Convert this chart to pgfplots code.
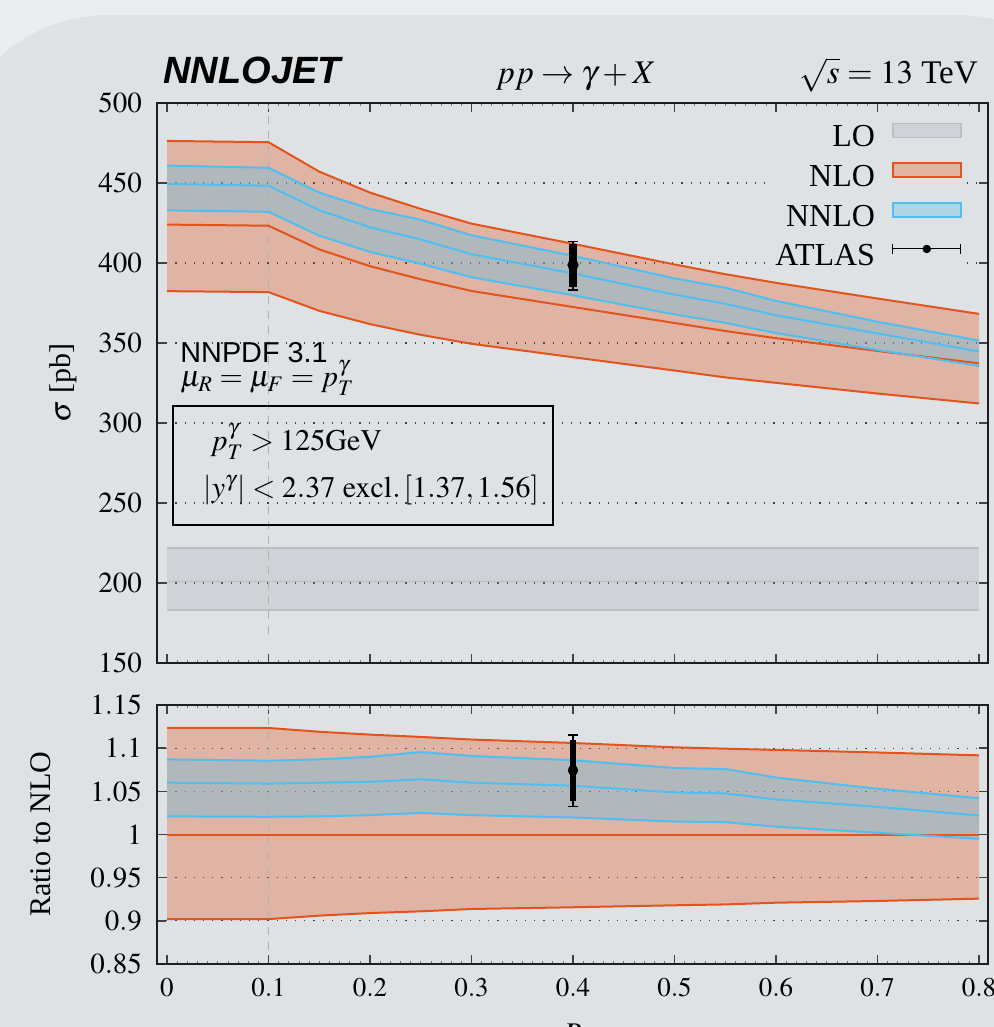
\documentclass[border=0pt]{standalone}
\usepackage{mathptmx}
\usepackage{fontspec}
\setmainfont{Liberation Serif}
\setsansfont{Liberation Sans}
\usepackage{pgfplots}
\pgfplotsset{compat=1.18}
\usepackage{pgfplotstable}
\usepgfplotslibrary{fillbetween}

\definecolor{bgout}{RGB}{236,237,239}
\definecolor{bgin}{RGB}{223,226,229}
\definecolor{nlocol}{RGB}{226,84,28}
\definecolor{nlofill}{RGB}{224,74,16}
\definecolor{nnlocol}{RGB}{79,190,240}
\definecolor{nnlofill}{RGB}{108,191,226}
\definecolor{lofill}{RGB}{160,165,170}
\definecolor{loline}{RGB}{188,191,194}
\definecolor{axcol}{RGB}{30,30,30}
\definecolor{dashcol}{RGB}{175,177,180}

\pgfplotstableread{
R    nloc  nlou  nlol  nnloc nnlou nnlol rnlou  rnlol  rnnloc rnnlou rnnlol
0    424.0 476.3 382.4 449.4 460.9 432.9 1.1234 0.902  1.060  1.087  1.021
0.1  423.3 475.5 381.8 448.3 459.5 432.0 1.1234 0.902  1.059  1.0855 1.0205
0.15 408.5 457.1 370.1 433.0 444.0 417.1 1.119  0.906  1.060  1.087  1.021
0.2  398.0 444.0 361.8 422.3 433.8 406.9 1.1157 0.909  1.061  1.090  1.0224
0.25 389.8 433.8 355.1 414.7 427.0 399.5 1.113  0.911  1.064  1.0955 1.025
0.3  382.5 424.6 349.5 405.5 417.3 391.1 1.110  0.9137 1.060  1.091  1.0224
0.4  372.5 412.0 341.1 393.5 404.5 379.8 1.106  0.9157 1.0565 1.086  1.0197
0.5  362.5 399.1 332.8 380.2 390.4 367.9 1.101  0.918  1.0487 1.077  1.015
0.55 357.5 393.0 328.5 374.5 384.6 362.6 1.0994 0.919  1.0476 1.0758 1.0143
0.6  353.0 387.6 325.1 367.3 376.3 356.2 1.098  0.921  1.0406 1.066  1.009
0.7  345.0 377.8 318.4 356.0 363.3 345.7 1.095  0.923  1.032  1.053  1.002
0.8  337.3 368.2 312.2 344.7 351.5 335.6 1.0917 0.9257 1.022  1.042  0.995
}\data

\pgfplotstableread{
R   lo    lou   lol
0   201.0 221.9 183.1
0.8 201.0 221.9 183.1
}\lodata

\pgfplotsset{
  common/.style={
    set layers,
    scale only axis, width=415.5pt,
    xmin=-0.00985, xmax=0.8089,
    xtick={0,0.1,0.2,0.3,0.4,0.5,0.6,0.7,0.8},
    minor x tick num=9,
    tick align=inside,
    major tick length=4.5pt, minor tick length=1.6pt,
    axis line style={axcol, line width=0.9pt},
    every tick/.style={axcol!85, line width=0.8pt},
    every minor tick/.style={axcol!60, line width=0.35pt},
    ymajorgrids,
    major grid style={black!75, line width=0.6pt, dash pattern=on 0.6pt off 4pt},
    xticklabel style={yshift=-3.5pt, font=\fontsize{13.5}{13.5}\selectfont},
    yticklabel style={xshift=-4pt, font=\fontsize{14.5}{14.5}\selectfont},
    clip=false,
    ylabel style={anchor=center, font=\fontsize{15}{15}\selectfont},
  }
}

\begin{document}
\begin{tikzpicture}

% ---------------- top panel ----------------
\begin{axis}[common,
  at={(78.5pt,182pt)}, anchor=south west, height=280pt,
  ymin=150, ymax=500, ytick={150,200,250,300,350,400,450,500},
  xticklabels={},
  ylabel={$\sigma$ [pb]},
  ylabel style={at={(axis description cs:-0.113,0.5)}},
  legend plot pos=right, legend cell align=right,
  legend style={at={(axis description cs:0.9735,0.9725)}, anchor=north east,
    draw=none, fill=bgin, inner sep=2pt, row sep=5.4pt, column sep=7.5pt,
    font=\fontsize{16}{16}\selectfont, nodes={inner sep=1pt}},
]
\begin{pgfonlayer}{axis background}
\fill[bgout] (axis description cs:-0.2,-0.67) rectangle (axis description cs:1.02,1.2);
\fill[bgin, rounded corners=82pt] (axis description cs:-0.2551,-0.8643) rectangle (axis description cs:1.1588,1.1571);
\end{pgfonlayer}

\addplot[dashcol, line width=0.9pt, dash pattern=on 4pt off 3.5pt, forget plot] coordinates {(0.1,168) (0.1,499)};

% LO
\addplot[draw=none, name path=lou, forget plot] table[x=R,y=lou]{\lodata};
\addplot[draw=none, name path=lol, forget plot] table[x=R,y=lol]{\lodata};
\addplot[lofill, fill opacity=0.25, draw=none, forget plot] fill between[of=lou and lol];
\addplot[loline, line width=0.8pt, forget plot] table[x=R,y=lou]{\lodata};
\addplot[loline, line width=0.8pt, forget plot] table[x=R,y=lol]{\lodata};
\addplot[loline, line width=0.8pt, forget plot] table[x=R,y=lo]{\lodata};

% NLO
\addplot[draw=none, name path=nlou, forget plot] table[x=R,y=nlou]{\data};
\addplot[draw=none, name path=nlol, forget plot] table[x=R,y=nlol]{\data};
\addplot[nlofill, fill opacity=0.3, draw=none, forget plot] fill between[of=nlou and nlol];
% NNLO
\addplot[draw=none, name path=nnlou, forget plot] table[x=R,y=nnlou]{\data};
\addplot[draw=none, name path=nnlol, forget plot] table[x=R,y=nnlol]{\data};
\addplot[nnlofill, fill opacity=0.4, draw=none, forget plot] fill between[of=nnlou and nnlol];

\addplot[nlocol, line width=1pt, forget plot] table[x=R,y=nlou]{\data};
\addplot[nlocol, line width=1pt, forget plot] table[x=R,y=nloc]{\data};
\addplot[nlocol, line width=1pt, forget plot] table[x=R,y=nlol]{\data};
\addplot[nnlocol, line width=1pt, forget plot] table[x=R,y=nnlou]{\data};
\addplot[nnlocol, line width=1pt, forget plot] table[x=R,y=nnloc]{\data};
\addplot[nnlocol, line width=1pt, forget plot] table[x=R,y=nnlol]{\data};

% ATLAS
\addplot[black, only marks, mark=none, forget plot,
  error bars/.cd, y dir=both, y explicit,
  error bar style={line width=0.6pt, black},
  error mark options={rotate=90, black, mark size=2.6pt, line width=0.8pt}]
  coordinates {(0.4,398.75) +=(0,14.75) -=(0,15.45)};
\addplot[black, only marks, mark=*, mark size=2.6pt, forget plot,
  error bars/.cd, y dir=both, y explicit, error mark=none,
  error bar style={line width=3.8pt, black}]
  coordinates {(0.4,398.75) +=(0,13.15) -=(0,13.95)};

% annotations
\node[anchor=base west, font=\sffamily\bfseries\itshape\fontsize{19}{19}\selectfont, inner sep=0pt]
  at (axis description cs:0.0072,1.034) {NNLOJET};
\node[anchor=base, font=\fontsize{16.5}{16.5}\selectfont, inner sep=0pt]
  at (axis description cs:0.504,1.034) {$pp \rightarrow \gamma + X$};
\node[anchor=base east, font=\fontsize{16.5}{16.5}\selectfont, inner sep=0pt]
  at (axis description cs:0.988,1.034) {$\sqrt{s} = 13$ TeV};
\node[anchor=base west, font=\sffamily\fontsize{14.4}{14.4}\selectfont, inner sep=0pt]
  at (axis description cs:0.0277,0.536) {NNPDF 3.1};
\node[anchor=base west, font=\fontsize{15}{15}\selectfont, inner sep=0pt]
  at (axis description cs:0.0277,0.493) {$\mu_R = \mu_F = p_T^\gamma$};
\draw[black, line width=0.9pt] (axis description cs:0.0189,0.459) rectangle (axis description cs:0.4765,0.246);
\node[anchor=base west, font=\fontsize{15}{15}\selectfont, inner sep=0pt]
  at (axis description cs:0.0638,0.380) {$p_T^\gamma > 125\mathrm{GeV}$};
\node[anchor=base west, font=\fontsize{15}{15}\selectfont, inner sep=0pt]
  at (axis description cs:0.0554,0.296) {$|y^\gamma| < 2.37\ \mathrm{excl.}\,[1.37, 1.56]$};

% legend
\addlegendimage{legend image code/.code={\draw[draw=loline, fill=lofill, fill opacity=0.25, line width=0.8pt] (0pt,0pt) rectangle (34pt,7pt);}}
\addlegendentry{LO}
\addlegendimage{legend image code/.code={\draw[draw=nlocol, fill=nlofill, fill opacity=0.3, line width=0.8pt] (0pt,0pt) rectangle (34pt,7pt);}}
\addlegendentry{NLO}
\addlegendimage{legend image code/.code={\draw[draw=nnlocol, fill=nnlofill, fill opacity=0.4, line width=0.8pt] (0pt,0pt) rectangle (34pt,7pt);}}
\addlegendentry{NNLO}
\addlegendimage{legend image code/.code={\draw[black, line width=0.5pt] (0pt,3.5pt) -- (34pt,3.5pt); \draw[black, line width=0.5pt] (0pt,1pt) -- (0pt,6pt); \draw[black, line width=0.5pt] (34pt,1pt) -- (34pt,6pt); \fill[black] (17pt,3.5pt) circle (1.9pt);}}
\addlegendentry{ATLAS}
\end{axis}

% ---------------- ratio panel ----------------
\begin{axis}[common,
  at={(78.5pt,31.5pt)}, anchor=south west, height=129.5pt,
  ymin=0.85, ymax=1.15, ytick={0.85,0.9,0.95,1,1.05,1.1,1.15},
  ylabel={Ratio to NLO},
  ylabel style={at={(axis description cs:-0.1396,0.5)}},
  xlabel={$R$},
  xlabel style={at={(axis description cs:0.5,-0.205)}, anchor=north, font=\fontsize{15}{15}\selectfont},
]
\addplot[dashcol, line width=0.9pt, dash pattern=on 4pt off 3.5pt, forget plot] coordinates {(0.1,0.866) (0.1,1.148)};

\addplot[draw=none, name path=rnlou, forget plot] table[x=R,y=rnlou]{\data};
\addplot[draw=none, name path=rnlol, forget plot] table[x=R,y=rnlol]{\data};
\addplot[nlofill, fill opacity=0.3, draw=none, forget plot] fill between[of=rnlou and rnlol];
\addplot[draw=none, name path=rnnlou, forget plot] table[x=R,y=rnnlou]{\data};
\addplot[draw=none, name path=rnnlol, forget plot] table[x=R,y=rnnlol]{\data};
\addplot[nnlofill, fill opacity=0.4, draw=none, forget plot] fill between[of=rnnlou and rnnlol];

\addplot[nlocol, line width=1pt, forget plot] table[x=R,y=rnlou]{\data};
\addplot[nlocol, line width=1pt, forget plot] coordinates {(0,1) (0.8,1)};
\addplot[nlocol, line width=1pt, forget plot] table[x=R,y=rnlol]{\data};
\addplot[nnlocol, line width=1pt, forget plot] table[x=R,y=rnnlou]{\data};
\addplot[nnlocol, line width=1pt, forget plot] table[x=R,y=rnnloc]{\data};
\addplot[nnlocol, line width=1pt, forget plot] table[x=R,y=rnnlol]{\data};

\addplot[black, only marks, mark=none, forget plot,
  error bars/.cd, y dir=both, y explicit,
  error bar style={line width=0.6pt, black},
  error mark options={rotate=90, black, mark size=2.6pt, line width=0.8pt}]
  coordinates {(0.4,1.0743) +=(0,0.041) -=(0,0.0418)};
\addplot[black, only marks, mark=*, mark size=2.4pt, forget plot,
  error bars/.cd, y dir=both, y explicit, error mark=none,
  error bar style={line width=3.2pt, black}]
  coordinates {(0.4,1.0743) +=(0,0.0352) -=(0,0.0356)};
\end{axis}
\pgfresetboundingbox
\path[use as bounding box] (0,0) rectangle (497pt,513.5pt);
\end{tikzpicture}
\end{document}
